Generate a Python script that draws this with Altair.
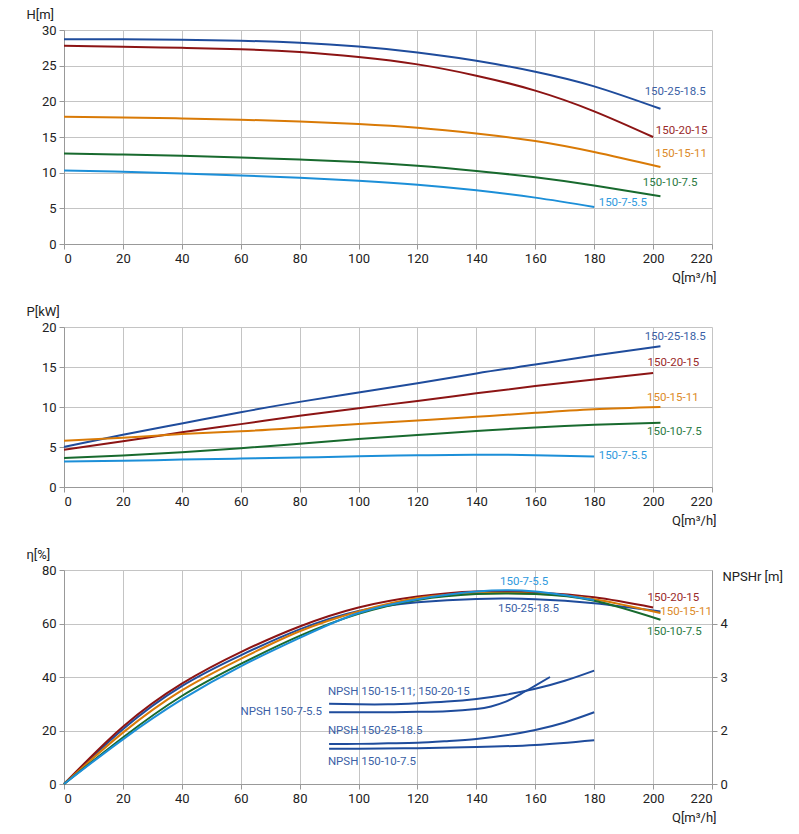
import altair as alt
import pandas as pd

# ---------------- data ----------------
models = ["150-25-18.5", "150-20-15", "150-15-11", "150-10-7.5", "150-7-5.5"]
colors = ["#1f4c9c", "#8c1414", "#d97a06", "#186a2e", "#1c8fd8"]
label_colors = ["#3b5fa6", "#9a2a2a", "#dc8a28", "#2c7a44", "#2f9ade"]

# Q points of each model's curves
q_pts = {
    "150-25-18.5": [0, 20, 40, 60, 80, 100, 120, 140, 160, 180, 202.5],
    "150-20-15":   [0, 20, 40, 60, 80, 100, 120, 140, 160, 180, 200],
    "150-15-11":   [0, 20, 40, 60, 80, 100, 120, 140, 160, 180, 202.5],
    "150-10-7.5":  [0, 20, 40, 60, 80, 100, 120, 140, 160, 180, 202.5],
    "150-7-5.5":   [0, 20, 40, 60, 80, 100, 120, 140, 160, 180],
}
# H(Q) [m]
h_v = {
    "150-25-18.5": [28.7, 28.7, 28.65, 28.5, 28.2, 27.67, 26.85, 25.7, 24.15, 22.1, 18.95],
    "150-20-15":   [27.8, 27.65, 27.5, 27.3, 26.9, 26.2, 25.18, 23.6, 21.5, 18.6, 15.0],
    "150-15-11":   [17.83, 17.74, 17.6, 17.42, 17.18, 16.82, 16.3, 15.5, 14.44, 12.9, 10.8],
    "150-10-7.5":  [12.68, 12.54, 12.36, 12.12, 11.84, 11.5, 10.98, 10.25, 9.35, 8.2, 6.69],
    "150-7-5.5":   [10.31, 10.12, 9.9, 9.62, 9.27, 8.85, 8.3, 7.52, 6.5, 5.2],
}
# P(Q) [kW]
p_v = {
    "150-25-18.5": [5.0, 6.54, 7.95, 9.35, 10.64, 11.8, 12.96, 14.2, 15.3, 16.43, 17.6],
    "150-20-15":   [4.67, 5.71, 6.83, 7.86, 8.9, 9.85, 10.76, 11.71, 12.62, 13.45, 14.24],
    "150-15-11":   [5.79, 6.16, 6.62, 6.96, 7.4, 7.86, 8.32, 8.77, 9.27, 9.73, 10.01],
    "150-10-7.5":  [3.64, 3.93, 4.35, 4.84, 5.42, 6.0, 6.5, 7.0, 7.45, 7.78, 8.03],
    "150-7-5.5":   [3.18, 3.27, 3.43, 3.55, 3.68, 3.85, 3.96, 4.04, 3.98, 3.82],
}
# efficiency [%]
e_v = {
    "150-25-18.5": [0, 20.5, 36.6, 48.1, 57.8, 64.7, 67.9, 69.2, 69.1, 67.6, 64.5],
    "150-20-15":   [0, 21.4, 37.5, 49.3, 58.9, 66.0, 70.1, 72.0, 71.6, 69.8, 66.0],
    "150-15-11":   [0, 19.2, 35.0, 46.8, 57.1, 64.5, 69.5, 71.3, 71.1, 69.1, 63.9],
    "150-10-7.5":  [0, 17.4, 32.9, 44.9, 55.4, 63.6, 68.8, 71.0, 71.0, 68.5, 61.4],
    "150-7-5.5":   [0, 16.7, 31.6, 44.0, 54.6, 63.9, 69.1, 72.0, 72.0, 68.8],
}

# NPSHr curves [m]
npsh_names = ["NPSH 150-15-11; 150-20-15", "NPSH 150-7-5.5", "NPSH 150-25-18.5", "NPSH 150-10-7.5"]
npsh_q = {
    "NPSH 150-15-11; 150-20-15": [90, 100, 110, 120, 130, 140, 150, 160, 170, 180],
    "NPSH 150-7-5.5": [90, 100, 110, 120, 130, 140, 145, 150, 155, 160, 165],
    "NPSH 150-25-18.5": [90, 100, 110, 120, 130, 140, 150, 160, 170, 180],
    "NPSH 150-10-7.5": [90, 100, 120, 140, 160, 180],
}
npsh_v = {
    "NPSH 150-15-11; 150-20-15": [2.50, 2.49, 2.49, 2.51, 2.54, 2.59, 2.67, 2.78, 2.93, 3.12],
    "NPSH 150-7-5.5": [2.34, 2.34, 2.34, 2.35, 2.36, 2.40, 2.45, 2.54, 2.68, 2.84, 3.0],
    "NPSH 150-25-18.5": [1.75, 1.75, 1.76, 1.77, 1.80, 1.84, 1.91, 2.01, 2.15, 2.34],
    "NPSH 150-10-7.5": [1.66, 1.66, 1.67, 1.69, 1.73, 1.82],
}

# series label anchors
h_lab_q = [207.5, 209.7, 209.5, 205.8, 189.7]
h_lab_v = [21.3, 15.85, 12.68, 8.5, 5.71]
p_lab_q = [207.5, 206.9, 206.7, 207.2, 189.7]
p_lab_v = [18.76, 15.44, 11.09, 6.87, 3.85]
e_lab_q = [157.7, 206.9, 211.2, 207.2, 156.2]
e_lab_v = [65.5, 69.7, 64.3, 56.8, 75.7]
n_lab_q = [89.6, 87.6, 89.6, 89.6]
n_lab_v = [34.5, 26.9, 19.9, 8.4]
n_lab_align = ["left", "right", "left", "left"]

# ---------------- tables ----------------
rows_h, rows_p, rows_e = [], [], []
for m in models:
    for q, h, p, e in zip(q_pts[m], h_v[m], p_v[m], e_v[m]):
        rows_h.append({"model": m, "Q": q, "v": h})
        rows_p.append({"model": m, "Q": q, "v": p})
        rows_e.append({"model": m, "Q": q, "v": e})
df_h, df_p, df_e = pd.DataFrame(rows_h), pd.DataFrame(rows_p), pd.DataFrame(rows_e)

rows_n = []
for n in npsh_names:
    for q, v in zip(npsh_q[n], npsh_v[n]):
        rows_n.append({"name": n, "Q": q, "v": v})
df_n = pd.DataFrame(rows_n)


def labels_df(qs, vs):
    return pd.DataFrame({"model": models, "Q": qs, "v": vs, "lc": label_colors})


df_hl = labels_df(h_lab_q, h_lab_v)
df_pl = labels_df(p_lab_q, p_lab_v)
df_el = labels_df(e_lab_q, e_lab_v)
df_nl = pd.DataFrame({"name": npsh_names, "Q": n_lab_q, "v": n_lab_v, "al": n_lab_align})

# ---------------- styling ----------------
W = 648
FONT = "Roboto"
GRID = "#c4c4c4"
INTERP = "natural"
color_scale = alt.Scale(domain=models, range=colors)

x_axis = alt.Axis(
    values=list(range(0, 221, 20)), grid=True, gridColor=GRID, domainColor="#999",
    tickColor="#999", labelFontSize=13, labelColor="#222", labelFont=FONT,
    title="Q[m³/h]", titleFont=FONT, titleFontSize=13, titleFontWeight="normal",
    titleColor="#222", titleAnchor="end", titleAlign="right", titleX=W + 4,
    titleY=37, titleBaseline="alphabetic",
)
x_enc = alt.X("Q:Q", scale=alt.Scale(domain=[0, 220], nice=False), axis=x_axis)


def y_axis(title, values):
    return alt.Axis(
        values=values, grid=True, gridColor=GRID, domainColor="#999", tickColor="#999",
        labelFontSize=13, labelColor="#222", labelFont=FONT, title=title,
        titleFont=FONT, titleFontSize=13, titleFontWeight="normal", titleColor="#222",
        titleAngle=0, titleAlign="left", titleX=-38, titleY=-12,
        titleBaseline="alphabetic",
    )


def panel(df, dfl, title, dom, vals, height):
    y_enc = alt.Y("v:Q", scale=alt.Scale(domain=dom, nice=False), axis=y_axis(title, vals))
    lines = alt.Chart(df).mark_line(strokeWidth=2, interpolate=INTERP).encode(
        x=x_enc, y=y_enc,
        color=alt.Color("model:N", scale=color_scale, legend=None),
        detail="model:N",
    )
    labs = alt.Chart(dfl).mark_text(font=FONT, fontSize=11.5, align="center",
                                    baseline="middle").encode(
        x=x_enc, y=y_enc, text="model:N",
        color=alt.Color("lc:N", scale=None),
    )
    return alt.layer(lines, labs).properties(width=W, height=height)


p1 = panel(df_h, df_hl, "H[m]", [0, 30], list(range(0, 31, 5)), 214)
p2 = panel(df_p, df_pl, "P[kW]", [0, 20], list(range(0, 21, 5)), 160)

# efficiency panel with NPSH right axis
y_e = alt.Y("v:Q", scale=alt.Scale(domain=[0, 80], nice=False),
            axis=y_axis("η[%]", list(range(0, 81, 20))))
e_lines = alt.Chart(df_e).mark_line(strokeWidth=2, interpolate=INTERP).encode(
    x=x_enc, y=y_e,
    color=alt.Color("model:N", scale=color_scale, legend=None),
    detail="model:N",
)
e_labs = alt.Chart(df_el).mark_text(font=FONT, fontSize=11.5, align="center",
                                    baseline="middle").encode(
    x=x_enc, y=y_e, text="model:N",
    color=alt.Color("lc:N", scale=None),
)
n_labs_l = alt.Chart(df_nl).transform_filter("datum.al == 'left'").mark_text(
    font=FONT, fontSize=11.5, align="left", baseline="middle", color="#3b5fa6"
).encode(x=x_enc, y=y_e, text="name:N")
n_labs_r = alt.Chart(df_nl).transform_filter("datum.al == 'right'").mark_text(
    font=FONT, fontSize=11.5, align="right", baseline="middle", color="#3b5fa6"
).encode(x=x_enc, y=y_e, text="name:N")

right_axis = alt.Axis(
    orient="right", values=[1, 2, 3, 4], grid=False, domainColor="#999",
    tickColor="#999", labelFontSize=13, labelColor="#222", labelFont=FONT,
    labelExpr="datum.value == 1 ? '0' : datum.label",
    title="NPSHr [m]", titleFont=FONT, titleFontSize=13, titleFontWeight="normal",
    titleColor="#222", titleAngle=0, titleAlign="left", titleX=10, titleY=10,
    titleBaseline="alphabetic",
)
y_n = alt.Y("v:Q", scale=alt.Scale(domain=[1, 5], nice=False), axis=right_axis)
n_lines = alt.Chart(df_n).mark_line(strokeWidth=2, interpolate=INTERP,
                                    color="#1f4c9c").encode(
    x=x_enc, y=y_n, detail="name:N",
)

left_all = alt.layer(e_lines, e_labs, n_labs_l, n_labs_r)
p3 = alt.layer(left_all, n_lines).resolve_scale(y="independent").properties(width=W, height=214)

chart = alt.vconcat(p1, p2, p3, spacing=83, bounds="flush").properties(
    padding={"left": 18, "top": 0, "right": 5, "bottom": 5}
).configure_view(stroke=None).configure_axis(labelPadding=3)

chart.save("out.html", embed_options={"renderer": "svg", "actions": False})
